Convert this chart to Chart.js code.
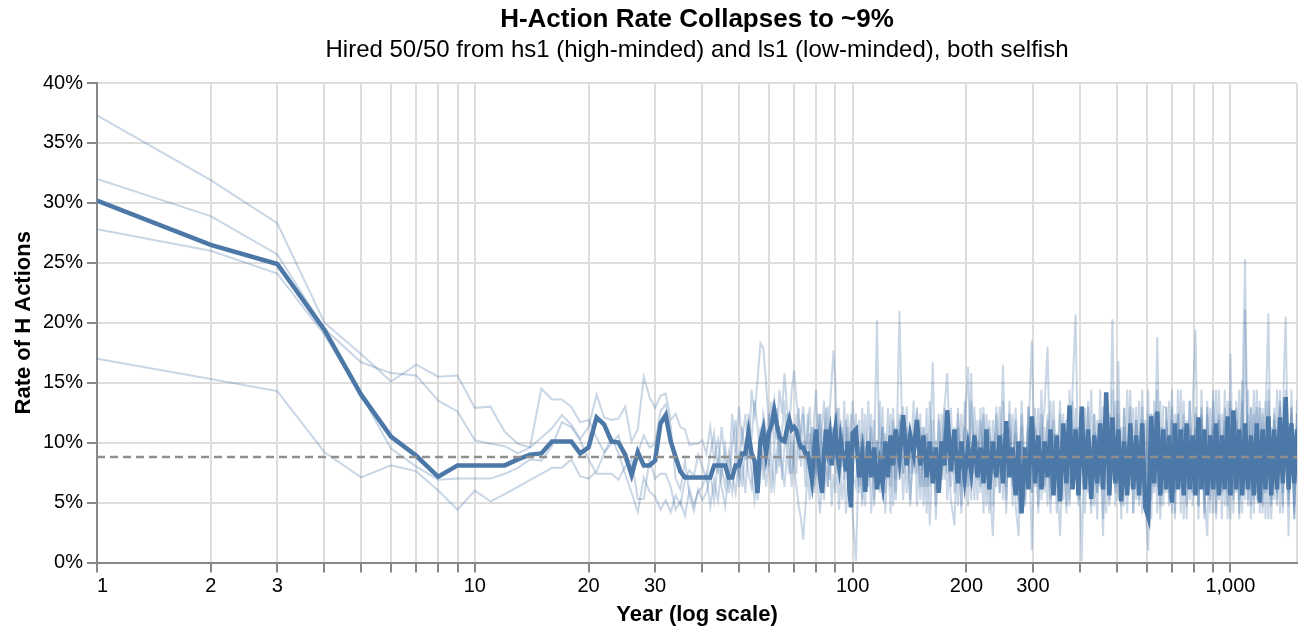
<!DOCTYPE html>
<html>
<head>
<meta charset="utf-8">
<script src="https://cdn.jsdelivr.net/npm/chart.js@4/dist/chart.umd.min.js"></script>
<style>
  html, body { margin: 0; padding: 0; background: #fff; }
</style>
</head>
<body>
<canvas id="chart" width="1312" height="636"></canvas>
<script>
// simulation years (every year to 100, then sampled)
const years = [
  1, 2, 3, 4, 5, 6, 7, 8, 9, 10,
  11, 12, 13, 14, 15, 16, 17, 18, 19, 20,
  21, 22, 23, 24, 25, 26, 27, 28, 29, 30,
  31, 32, 33, 34, 35, 36, 37, 38, 39, 40,
  41, 42, 43, 44, 45, 46, 47, 48, 49, 50,
  51, 52, 53, 54, 55, 56, 57, 58, 59, 60,
  61, 62, 63, 64, 65, 66, 67, 68, 69, 70,
  71, 72, 73, 74, 75, 76, 77, 78, 79, 80,
  81, 82, 83, 84, 85, 86, 87, 88, 89, 90,
  91, 92, 93, 94, 95, 96, 97, 98, 99, 100,
  102, 104, 106, 108, 110, 112, 114, 116, 118, 120,
  122, 124, 126, 128, 130, 133, 136, 139, 142, 145,
  148, 151, 154, 157, 160, 163, 166, 169, 172, 175,
  178, 182, 186, 190, 194, 198, 202, 206, 210, 214,
  218, 222, 226, 230, 235, 240, 245, 250, 255, 260,
  265, 270, 275, 280, 286, 292, 298, 304, 310, 316,
  322, 328, 334, 340, 347, 354, 361, 368, 375, 382,
  389, 396, 404, 412, 420, 428, 436, 444, 452, 460,
  469, 478, 487, 496, 505, 514, 523, 533, 543, 553,
  563, 573, 584, 595, 606, 617, 628, 640, 652, 664,
  676, 688, 700, 713, 726, 739, 752, 766, 780, 794,
  808, 823, 838, 853, 868, 884, 900, 916, 932, 949,
  966, 983, 1000, 1018, 1036, 1055, 1074, 1093, 1113, 1133,
  1153, 1174, 1195, 1216, 1238, 1260, 1282, 1305, 1328, 1352,
  1376, 1400, 1425, 1450, 1475, 1500
];

// average rate of H actions (%)
const meanRate = [
  30.2, 26.5, 24.9, 19.4, 14.0, 10.5, 8.9, 7.15, 8.1, 8.1,
  8.1, 8.1, 8.6, 9.0, 9.1, 10.1, 10.1, 10.1, 9.1, 9.6,
  12.1, 11.5, 10.1, 10.0, 9.0, 7.3, 9.2, 8.1, 8.1, 8.5,
  11.6, 12.3, 10.1, 8.8, 7.6, 7.1, 7.1, 7.1, 7.1, 7.1,
  7.1, 7.1, 8.1, 8.1, 8.1, 8.1, 7.1, 7.1, 8.1, 8.1,
  9.1, 9.1, 10.8, 9.1, 8.5, 5.8, 10.1, 11.1, 9.1, 10.8,
  11.5, 12.7, 11.5, 10.5, 10.2, 10.1, 11.1, 11.9, 11.1, 11.3,
  11.0, 10.1, 9.6, 9.6, 9.1, 9.1, 8.1, 6.9, 9.1, 11.1,
  9.1, 7.1, 5.8, 9.1, 11.1, 9.6, 10.6, 8.1, 10.1, 11.1,
  9.1, 8.1, 10.1, 9.1, 9.1, 7.6, 10.1, 6.1, 4.6, 10.8,
  11.1, 7.1, 9.1, 5.9, 10.1, 7.1, 9.6, 6.1, 8.1, 6.6,
  10.1, 7.1, 10.6, 8.1, 11.1, 8.6, 12.3, 8.1, 10.6, 9.1,
  11.9, 8.1, 10.6, 7.1, 10.1, 6.6, 9.6, 5.8, 10.1, 8.1,
  12.7, 7.6, 11.1, 6.6, 10.1, 7.1, 9.6, 7.6, 10.6, 7.1,
  9.6, 6.6, 11.1, 6.1, 10.1, 7.1, 10.6, 6.6, 11.8, 7.1,
  9.6, 5.6, 10.1, 4.1, 9.6, 6.1, 12.2, 6.6, 10.6, 6.1,
  10.1, 7.1, 11.1, 5.6, 10.6, 5.1, 11.6, 6.6, 13.1, 6.1,
  11.1, 5.6, 13.0, 6.1, 11.1, 5.3, 10.6, 6.6, 11.6, 6.1,
  14.2, 5.6, 12.1, 6.6, 11.1, 5.1, 10.1, 5.6, 11.6, 6.1,
  10.6, 5.6, 11.6, 4.6, 3.8, 12.2, 6.6, 12.6, 5.6, 11.1,
  6.1, 10.6, 5.0, 11.6, 6.1, 11.1, 5.6, 11.6, 6.1, 10.6,
  5.6, 12.1, 6.1, 11.1, 5.6, 10.6, 6.1, 11.6, 5.6, 10.6,
  6.1, 12.2, 5.6, 12.7, 6.1, 11.1, 5.6, 11.6, 6.1, 10.6,
  5.6, 11.6, 5.0, 11.1, 6.1, 12.2, 5.6, 11.1, 6.1, 12.1,
  6.6, 13.8, 6.1, 11.6, 6.6, 11.1
];

// individual runs (%)
const runA = [
  37.3, 31.9, 28.3, 20.0, 17.4, 15.1, 16.5, 15.5, 15.6, 12.9,
  13.0, 10.9, 9.9, 9.6, 10.4, 11.2, 12.3, 11.5, 10.3, 11.3,
  14.0, 12.1, 11.9, 12.0, 13.0, 10.1, 11.1, 15.5, 13.8, 12.9,
  13.9, 14.1, 11.9, 12.4, 11.3, 11.1, 9.8, 9.9, 9.9, 10.2,
  9.1, 11.3, 8.6, 10.2, 7.4, 9.7, 6.9, 12.4, 9.1, 13.0,
  10.2, 12.4, 8.6, 14.4, 12.4, 15.2, 18.3, 17.9, 15.0, 11.3,
  13.4, 9.7, 12.9, 8.0, 10.8, 13.5, 9.1, 11.9, 7.4, 10.2,
  12.4, 8.6, 11.3, 13.0, 9.7, 7.4, 10.8, 8.0, 11.9, 14.4,
  9.7, 12.4, 7.4, 10.2, 12.9, 9.1, 6.9, 11.3, 8.6, 12.4,
  10.2, 7.4, 11.9, 8.0, 13.5, 9.7, 11.3, 6.3, 8.0, 4.1,
  0.1, 9.7, 5.2, 12.4, 6.3, 11.3, 4.7, 10.2, 7.4, 13.0,
  5.8, 9.1, 4.1, 11.9, 6.9, 12.4, 5.2, 10.8, 7.4, 13.5,
  4.7, 11.3, 6.3, 12.9, 3.1, 9.7, 5.8, 11.9, 7.4, 13.0,
  15.8, 6.3, 11.3, 4.7, 12.4, 7.4, 10.2, 5.2, 13.0, 6.9,
  11.9, 4.1, 12.4, 7.4, 2.2, 10.8, 5.8, 13.5, 6.3, 11.3,
  4.7, 12.9, 7.4, 10.2, 5.2, 13.0, 1.0, 11.3, 6.3, 14.4,
  5.8, 12.4, 4.1, 10.8, 7.4, 13.5, 5.2, 11.9, 4.7, 14.4,
  20.7, 6.3, 12.4, 4.1, 13.0, 5.8, 10.8, 3.6, 14.4, 6.9,
  12.4, 4.7, 11.3, 5.8, 13.5, 3.6, 12.9, 6.3, 14.4, 4.1,
  11.9, 5.2, 13.0, 4.7, 1.0, 12.4, 6.3, 14.4, 3.6, 11.3,
  5.8, 13.5, 4.1, 12.4, 6.9, 14.4, 3.6, 11.9, 5.2, 13.0,
  19.4, 4.7, 12.4, 3.6, 13.5, 6.3, 11.3, 4.1, 14.4, 5.8,
  12.9, 3.6, 13.5, 5.2, 11.9, 4.1, 15.2, 6.3, 12.4, 3.6,
  14.4, 5.8, 12.9, 4.7, 13.5, 3.6, 11.3, 5.2, 14.4, 4.1,
  12.4, 20.5, 4.7, 13.0, 3.6, 12.4
];
const runB = [
  32.0, 28.9, 25.7, 19.5, 16.7, 15.8, 15.6, 13.5, 12.6, 10.2,
  9.9, 9.7, 9.1, 9.6, 14.5, 13.6, 13.6, 13.0, 11.7, 11.9,
  10.4, 9.2, 9.9, 10.6, 8.5, 8.0, 9.1, 10.6, 9.6, 9.9,
  12.6, 13.2, 11.4, 7.0, 6.1, 8.5, 5.6, 4.3, 6.1, 5.2,
  5.8, 7.4, 5.2, 8.6, 6.3, 4.7, 7.4, 5.8, 9.1, 7.4,
  11.3, 8.6, 12.4, 10.2, 13.5, 11.3, 9.1, 12.4, 10.8, 8.0,
  11.9, 13.5, 10.2, 14.4, 12.4, 15.8, 13.0, 11.3, 14.4, 16.0,
  13.5, 11.9, 9.7, 12.4, 8.6, 10.8, 13.0, 9.1, 11.3, 7.4,
  10.2, 12.4, 9.1, 6.3, 10.8, 13.0, 8.6, 11.3, 9.7, 7.4,
  12.9, 9.1, 6.9, 10.8, 8.0, 11.9, 7.4, 9.7, 12.4, 8.6,
  12.4, 6.3, 10.8, 4.7, 13.5, 7.4, 9.1, 20.2, 5.8, 11.3,
  6.9, 12.9, 8.0, 10.2, 5.2, 11.9, 7.4, 13.0, 4.7, 10.8,
  12.4, 6.3, 11.3, 4.1, 13.5, 7.4, 10.2, 5.8, 12.4, 6.9,
  10.8, 5.2, 3.1, 12.9, 6.3, 11.3, 4.7, 13.5, 7.4, 10.2,
  5.8, 12.4, 6.9, 11.9, 4.7, 13.0, 7.4, 16.5, 5.2, 12.4,
  6.3, 10.8, 4.1, 13.5, 7.4, 11.3, 5.8, 12.9, 4.7, 10.2,
  13.0, 18.0, 6.3, 11.9, 4.1, 12.4, 7.4, 10.8, 5.2, 13.5,
  6.9, 11.3, 0.1, 12.9, 5.8, 14.4, 4.7, 11.9, 6.3, 13.0,
  4.1, 12.4, 6.9, 13.5, 5.2, 11.3, 4.7, 14.4, 6.3, 12.9,
  5.2, 13.5, 4.1, 11.9, 6.9, 12.4, 5.8, 18.8, 4.7, 13.0,
  12.9, 5.8, 14.4, 3.6, 12.4, 6.3, 13.5, 4.7, 11.3, 5.8,
  13.0, 3.6, 14.4, 5.2, 12.4, 4.1, 13.5, 6.3, 11.9, 3.6,
  14.4, 5.8, 12.9, 4.1, 13.5, 5.2, 12.4, 25.3, 4.7, 13.0,
  5.2, 14.4, 4.1, 12.9, 5.8, 13.5, 3.6, 12.4, 5.2, 14.4,
  4.7, 13.0, 5.8, 12.4, 4.1, 11.3
];
const runC = [
  27.8, 26.0, 24.1, 19.0, 14.0, 9.5, 8.0, 6.9, 7.0, 7.0,
  7.0, 7.4, 7.9, 8.6, 8.5, 9.7, 11.7, 11.3, 10.2, 8.6,
  7.4, 7.4, 7.4, 6.9, 8.0, 8.6, 5.3, 5.3, 8.6, 7.0,
  7.4, 7.4, 6.3, 4.4, 5.1, 3.9, 6.1, 4.8, 5.9, 6.3,
  7.4, 4.7, 6.9, 5.2, 8.0, 6.3, 9.1, 7.4, 5.8, 8.6,
  6.3, 9.7, 7.4, 6.3, 8.6, 5.2, 7.4, 9.1, 6.3, 8.6,
  5.8, 9.7, 7.4, 10.2, 8.0, 6.3, 9.1, 7.4, 10.8, 8.0,
  6.3, 4.7, 3.6, 1.9, 4.7, 7.4, 5.2, 8.6, 6.3, 9.1,
  5.8, 4.1, 7.4, 5.2, 8.0, 6.3, 9.7, 4.7, 7.4, 5.8,
  8.6, 4.4, 6.9, 5.2, 8.0, 4.1, 6.3, 8.6, 5.2, 7.4,
  6.3, 11.9, 4.7, 9.7, 7.4, 12.4, 5.2, 10.2, 6.9, 11.3,
  4.1, 9.1, 6.3, 12.9, 5.8, 21.0, 7.4, 11.3, 5.2, 9.7,
  7.4, 12.4, 4.7, 10.8, 6.3, 11.9, 3.6, 9.7, 6.9, 12.9,
  5.2, 10.2, 7.4, 12.4, 4.7, 11.3, 16.3, 6.3, 10.8, 5.2,
  12.9, 6.9, 10.2, 4.1, 11.9, 6.3, 13.0, 5.2, 10.8, 7.4,
  12.4, 4.7, 2.2, 11.3, 6.9, 13.0, 5.8, 10.2, 4.1, 12.4,
  6.3, 11.9, 5.2, 13.5, 7.4, 2.2, 10.8, 4.7, 12.9, 6.3,
  11.3, 4.7, 13.0, 6.9, 10.8, 4.1, 12.4, 5.8, 11.9, 3.6,
  13.5, 6.3, 20.3, 4.7, 12.4, 5.8, 11.3, 4.1, 13.0, 6.9,
  11.9, 4.7, 14.4, 5.8, 12.4, 3.6, 13.5, 6.3, 11.3, 4.7,
  13.0, 5.2, 11.9, 4.1, 14.4, 6.3, 12.4, 3.6, 13.5, 5.8,
  11.3, 4.7, 13.0, 5.8, 2.2, 12.9, 4.1, 14.4, 5.2, 12.4,
  4.7, 13.5, 3.6, 12.4, 5.8, 14.4, 4.1, 21.1, 5.2, 12.9,
  4.1, 13.0, 5.8, 12.4, 3.6, 14.4, 5.2, 11.9, 4.7, 13.5,
  5.8, 12.9, 2.2, 14.4, 4.7, 12.4
];
const runD = [
  17.0, 15.3, 14.3, 9.2, 7.1, 8.1, 7.6, 6.0, 4.4, 6.0,
  5.1, 5.7, 6.3, 6.9, 7.4, 7.9, 7.9, 8.6, 7.2, 7.0,
  7.6, 9.1, 10.4, 9.1, 7.4, 5.8, 4.2, 7.1, 5.9, 5.5,
  4.4, 5.2, 4.2, 5.6, 4.8, 6.9, 7.7, 7.2, 9.0, 8.0,
  6.9, 9.1, 10.8, 7.4, 11.3, 8.6, 5.8, 9.7, 11.9, 6.3,
  8.6, 5.8, 10.2, 7.4, 5.2, 8.0, 11.3, 6.9, 9.7, 12.4,
  8.0, 6.3, 9.1, 11.3, 6.9, 9.7, 12.4, 8.6, 6.3, 10.2,
  7.4, 12.9, 8.0, 10.2, 6.3, 12.4, 8.6, 11.3, 5.8, 8.0,
  12.4, 8.6, 11.3, 13.5, 9.1, 6.3, 12.9, 15.2, 17.7, 15.0,
  10.2, 12.9, 8.0, 11.3, 6.9, 9.1, 12.4, 8.6, 10.2, 13.5,
  9.1, 5.8, 12.9, 7.4, 10.2, 4.1, 11.9, 6.3, 13.5, 5.2,
  10.8, 7.4, 12.4, 4.7, 11.3, 6.9, 13.0, 5.8, 9.7, 7.4,
  12.9, 5.2, 11.3, 6.3, 8.6, 16.7, 4.7, 12.4, 6.9, 10.8,
  7.4, 12.9, 5.8, 11.3, 4.1, 13.5, 6.3, 15.8, 5.2, 11.9,
  6.3, 13.0, 4.7, 11.3, 7.4, 12.4, 5.8, 10.8, 4.1, 13.5,
  6.9, 11.9, 5.2, 12.4, 4.7, 10.8, 18.5, 6.3, 12.9, 5.2,
  11.3, 4.7, 13.5, 6.9, 10.8, 5.8, 12.4, 4.1, 14.4, 6.3,
  12.9, 5.2, 11.3, 6.9, 13.5, 4.7, 12.4, 5.8, 10.8, 2.2,
  12.4, 5.2, 14.4, 6.3, 16.8, 4.7, 12.9, 5.8, 11.3, 4.1,
  13.0, 6.3, 11.9, 4.7, 14.4, 5.2, 12.4, 4.1, 13.5, 5.8,
  11.9, 4.7, 13.0, 5.8, 12.4, 4.1, 11.3, 6.3, 13.5, 4.7,
  12.4, 5.8, 11.9, 4.1, 13.0, 5.2, 14.4, 3.6, 12.4, 6.3,
  11.9, 4.7, 17.4, 5.8, 12.9, 3.6, 13.5, 5.2, 14.4, 4.7,
  12.4, 5.2, 13.5, 4.1, 11.9, 20.8, 4.7, 12.9, 5.8, 13.0,
  4.1, 14.4, 5.2, 12.9, 3.6, 13.5
];

const settleRate = 8.8;
const xTicks = [1, 2, 3, 4, 5, 6, 7, 8, 9, 10, 20, 30, 40, 50, 60, 70, 80, 90,
  100, 200, 300, 400, 500, 600, 700, 800, 900, 1000];
const xLabelled = [1, 2, 3, 10, 20, 30, 100, 200, 300, 1000];
const xMax = 1500;

const blue = '#4c78a8';
const faint = 'rgba(76, 120, 168, 0.3)';

Chart.defaults.font.family = '"Liberation Sans", Arial, sans-serif';
Chart.defaults.color = '#000';

function runSet(values) {
  return { data: values, borderColor: faint, borderWidth: 2, pointRadius: 0, order: 2 };
}

new Chart(document.getElementById('chart'), {
  type: 'line',
  data: {
    labels: years,
    datasets: [
      {
        data: [{ x: 1, y: settleRate }, { x: xMax, y: settleRate }],
        borderColor: '#8f8f8f', borderWidth: 2.5, borderDash: [8, 5], pointRadius: 0, order: 0
      },
      { data: meanRate, borderColor: blue, borderWidth: 4.5, pointRadius: 0, order: 1 },
      runSet(runA), runSet(runB), runSet(runC), runSet(runD)
    ]
  },
  options: {
    responsive: false,
    animation: false,
    devicePixelRatio: 1,
    layout: { padding: { left: 0, right: 15, top: 0, bottom: 0 } },
    plugins: {
      legend: { display: false },
      tooltip: { enabled: false },
      title: {
        display: true, fullSize: false,
        text: 'H-Action Rate Collapses to ~9%',
        font: { size: 26, weight: 'bold' },
        padding: { top: 4, bottom: 0 }
      },
      subtitle: {
        display: true, fullSize: false,
        text: 'Hired 50/50 from hs1 (high-minded) and ls1 (low-minded), both selfish',
        font: { size: 24 },
        padding: { top: 1, bottom: 18 }
      }
    },
    scales: {
      x: {
        type: 'logarithmic',
        min: 1,
        max: xMax,
        afterBuildTicks: (scale) => {
          scale.ticks = xTicks.concat([xMax]).map((v) => ({ value: v }));
        },
        afterFit: (scale) => { scale.height = 73.5; },
        ticks: {
          autoSkip: false,
          maxRotation: 0,
          padding: 2,
          font: { size: 20 },
          callback: (v) => {
            if (!xLabelled.includes(v)) return '';
            if (v === 1) return '  1';
            return v.toLocaleString('en-US');
          }
        },
        grid: {
          color: '#ddd',
          lineWidth: 2,
          tickLength: 10,
          tickWidth: 2,
          tickColor: (ctx) => (ctx.tick && ctx.tick.value === xMax ? 'rgba(0,0,0,0)' : '#888')
        },
        border: { color: '#888', width: 2 },
        title: {
          display: true,
          text: 'Year (log scale)',
          font: { size: 22, weight: 'bold' },
          padding: { top: 0, bottom: 8 }
        }
      },
      y: {
        min: 0,
        max: 40,
        afterFit: (scale) => { scale.width = 97; },
        ticks: { stepSize: 5, padding: 4, font: { size: 20 }, callback: (v) => v + '%' },
        grid: { color: '#ddd', lineWidth: 2, tickLength: 10, tickWidth: 2, tickColor: '#888' },
        border: { color: '#888', width: 2 },
        title: {
          display: true,
          text: 'Rate of H Actions',
          font: { size: 22, weight: 'bold' },
          padding: { top: 11, bottom: 0 }
        }
      }
    }
  }
});
</script>
</body>
</html>
